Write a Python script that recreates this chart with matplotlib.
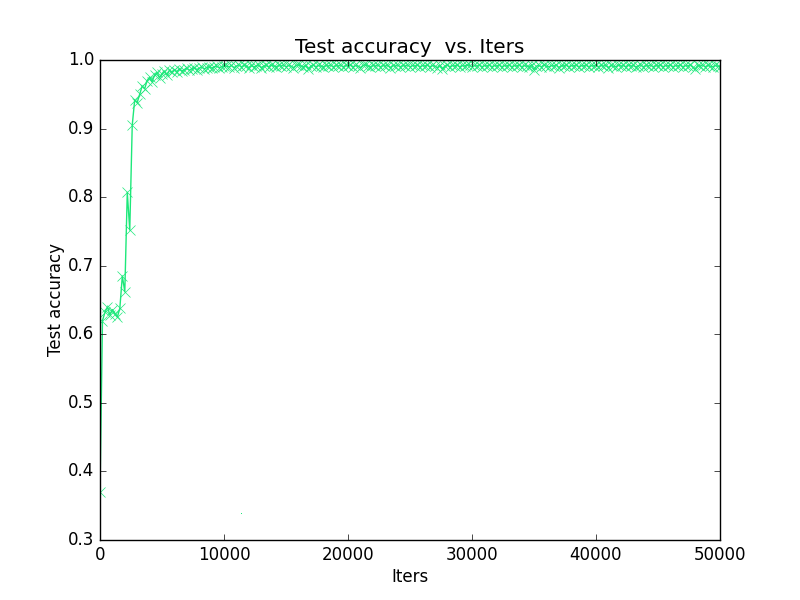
import numpy as np
from matplotlib import pyplot as plt

plt.style.use('classic')

# test accuracy every 200 iters
test_interval = 200
early_acc = [
    0.370, 0.620, 0.632, 0.640, 0.628, 0.636, 0.630, 0.625, 0.638, 0.685,
    0.662, 0.807, 0.752, 0.905, 0.942, 0.938, 0.950, 0.962, 0.958, 0.970,
    0.975, 0.968, 0.978, 0.982, 0.974, 0.980, 0.984, 0.978, 0.985, 0.982,
    0.986, 0.983, 0.987, 0.984, 0.986, 0.988, 0.985, 0.987, 0.989, 0.986,
    0.988, 0.990, 0.987, 0.989, 0.990, 0.988, 0.990, 0.991, 0.989, 0.990,
    0.991,
]
plateau_acc = [
    0.991, 0.990, 0.992, 0.989, 0.991, 0.993, 0.990, 0.992, 0.991, 0.989,
    0.992, 0.990, 0.991, 0.993, 0.989, 0.991, 0.992, 0.990, 0.993, 0.991,
    0.990, 0.992, 0.991, 0.993, 0.990, 0.992, 0.991, 0.989, 0.992, 0.993,
    0.991, 0.990, 0.992, 0.987, 0.991, 0.993, 0.990, 0.992, 0.991, 0.990,
    0.992, 0.991, 0.993, 0.990, 0.992, 0.991, 0.993, 0.990, 0.992, 0.991,
    0.993, 0.990, 0.992, 0.991, 0.989, 0.992, 0.993, 0.991, 0.990, 0.992,
    0.991, 0.993, 0.990, 0.992, 0.991, 0.993, 0.989, 0.992, 0.991, 0.993,
    0.990, 0.992, 0.991, 0.993, 0.990, 0.992, 0.991, 0.993, 0.990, 0.992,
    0.991, 0.993, 0.990, 0.992, 0.991, 0.989, 0.992, 0.987, 0.991, 0.993,
    0.990, 0.992, 0.991, 0.993, 0.990, 0.992, 0.991, 0.993, 0.992, 0.990,
    0.992, 0.991, 0.993, 0.990, 0.992, 0.991, 0.993, 0.990, 0.992, 0.991,
    0.993, 0.990, 0.992, 0.991, 0.993, 0.990, 0.992, 0.991, 0.993, 0.990,
    0.992, 0.991, 0.990, 0.993, 0.986, 0.991, 0.992, 0.990, 0.993, 0.991,
    0.990, 0.992, 0.991, 0.993, 0.989, 0.992, 0.991, 0.993, 0.990, 0.992,
    0.991, 0.993, 0.990, 0.992, 0.991, 0.993, 0.990, 0.992, 0.991, 0.993,
    0.990, 0.992, 0.991, 0.993, 0.989, 0.992, 0.991, 0.990, 0.993, 0.991,
    0.992, 0.990, 0.993, 0.991, 0.992, 0.990, 0.991, 0.993, 0.990, 0.992,
    0.991, 0.993, 0.990, 0.992, 0.991, 0.993, 0.990, 0.992, 0.991, 0.993,
    0.990, 0.992, 0.991, 0.993, 0.990, 0.992, 0.991, 0.993, 0.990, 0.987,
    0.992, 0.991, 0.993, 0.990, 0.992, 0.991, 0.990, 0.992, 0.991, 0.990,
]
test_acc = early_acc + plateau_acc
iters = np.arange(len(test_acc)) * test_interval

# lone stray point
stray_x = [11400]
stray_y = [0.338]

fig, ax = plt.subplots(figsize=(8, 6), dpi=100)
ax.plot(iters, test_acc, color='#1de87a', marker='x', markersize=7,
        markeredgecolor='#1de87a', linewidth=1)
ax.plot(stray_x, stray_y, color='#1de87a', marker=',', linestyle='none')

ax.set_xlim(0, 50000)
ax.set_ylim(0.3, 1.0)
ax.set_title('Test accuracy  vs. Iters')
ax.set_xlabel('Iters', labelpad=3)
ax.set_ylabel('Test accuracy', labelpad=2)

plt.savefig('out.png', dpi=100)
